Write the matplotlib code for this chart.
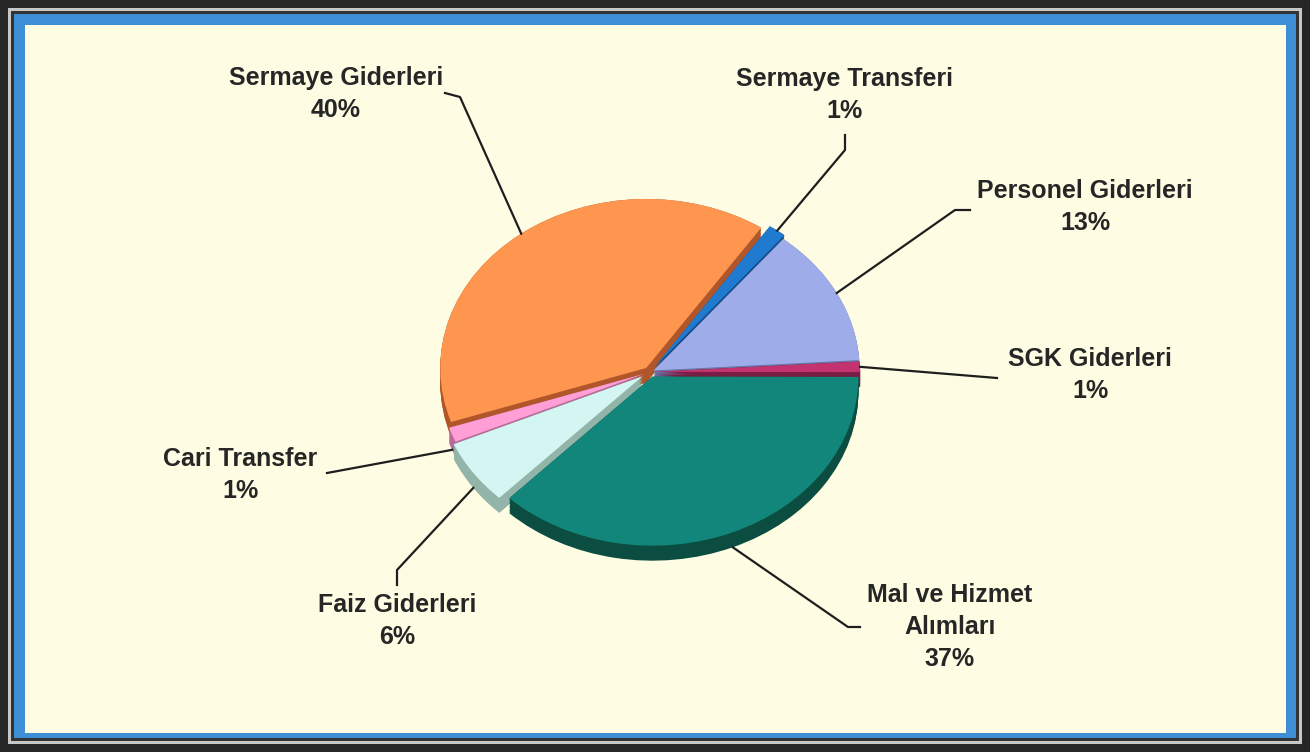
# Budget expenditure breakdown - tilted pie with leader labels

import numpy as np
import matplotlib.pyplot as plt
from matplotlib.patches import Rectangle
from matplotlib.lines import Line2D

plt.rcParams['font.family'] = ['Liberation Sans', 'DejaVu Sans']

labels = ['Mal ve Hizmet\nAlımları', 'SGK Giderleri', 'Personel Giderleri',
          'Sermaye Transferi', 'Sermaye Giderleri', 'Cari Transfer',
          'Faiz Giderleri']
shares = [37.2, 1.0, 13.2, 1.4, 39.6, 1.4, 6.2]
pct_text = ['37%', '1%', '13%', '1%', '40%', '1%', '6%']

top_colors = ['#12867b', '#c2336f', '#9eacea', '#1f7ad0', '#ff9650',
              '#ff9fd6', '#d4f6f2']
side_colors = ['#0b4d40', '#7a1d45', '#6a75a8', '#124f8a', '#b0562a',
               '#b86a98', '#93b4a8']
explode = [0.03, 0.02, 0.02, 0.04, 0.03, 0.03, 0.045]

# label block centres, leader elbow and end (pixels from top-left)
label_pos = [(950, 627), (1090, 375), (1085, 207), (845, 95),
             (336, 94), (240, 475), (397, 621)]
elbows = [(848, 627), (997, 378), (955, 210), (845, 150),
          (460, 97), (327, 473), (397, 570)]
ends = [(860, 627), (997, 378), (970, 210), (845, 135),
        (445, 93), (327, 473), (397, 585)]

W, H = 1310, 752
fig = plt.figure(figsize=(W / 100, H / 100), dpi=100)


def px_rect(x0, y0, x1, y1, color):
    fig.patches.append(Rectangle((x0 / W, 1 - y1 / H), (x1 - x0) / W,
                                 (y1 - y0) / H, transform=fig.transFigure,
                                 facecolor=color, edgecolor='none', zorder=-5))


# frame
px_rect(0, 0, W, H, '#262626')
px_rect(8, 8, W - 8, H - 8, '#c8c8c8')
px_rect(11, 11, W - 11, H - 11, '#333333')
px_rect(14, 14, W - 14, H - 14, '#3d8ed4')
px_rect(25, 25, W - 24, H - 19, '#fefde4')

# pie axes: centre ~ (650, 372), rx ~ 206 px, ry ~ 169 px
cx, cy, rx, ry = 650, 372, 206, 169
aw, ah = 2.2 * rx, 2.2 * ry
ax = fig.add_axes([(cx - aw / 2) / W, (H - cy - ah / 2) / H, aw / W, ah / H])
ax.set_zorder(1)
depth = 15 / ry

for d in np.linspace(depth, 0, 12):
    ax.pie(shares, colors=side_colors, startangle=226, explode=explode,
           center=(0, -d), wedgeprops=dict(linewidth=0))
wedges, _ = ax.pie(shares, colors=top_colors, startangle=226, explode=explode,
                   wedgeprops=dict(linewidth=0))
ax.set_aspect('auto')
ax.set_xlim(-1.1, 1.1)
ax.set_ylim(-1.1, 1.1)
ax.axis('off')

to_fig = fig.transFigure.inverted()
for i, w in enumerate(wedges):
    mid = np.deg2rad((w.theta1 + w.theta2) / 2)
    px = w.center[0] + np.cos(mid)
    py = w.center[1] + np.sin(mid)
    if np.sin(mid) < 0:
        py -= depth
    start = to_fig.transform(ax.transData.transform((px, py)))
    ex, ey = elbows[i]
    nx, ny = ends[i]
    fig.add_artist(Line2D([start[0], ex / W, nx / W],
                          [start[1], 1 - ey / H, 1 - ny / H],
                          color='#1e1e1e', lw=1.6, transform=fig.transFigure,
                          zorder=2))
    tx, ty = label_pos[i]
    fig.text(tx / W, 1 - ty / H, labels[i] + '\n' + pct_text[i],
             ha='center', va='center', fontsize=18, fontweight='bold',
             color='#262626', linespacing=1.42, zorder=3)

fig.savefig('out.png', dpi=100)
